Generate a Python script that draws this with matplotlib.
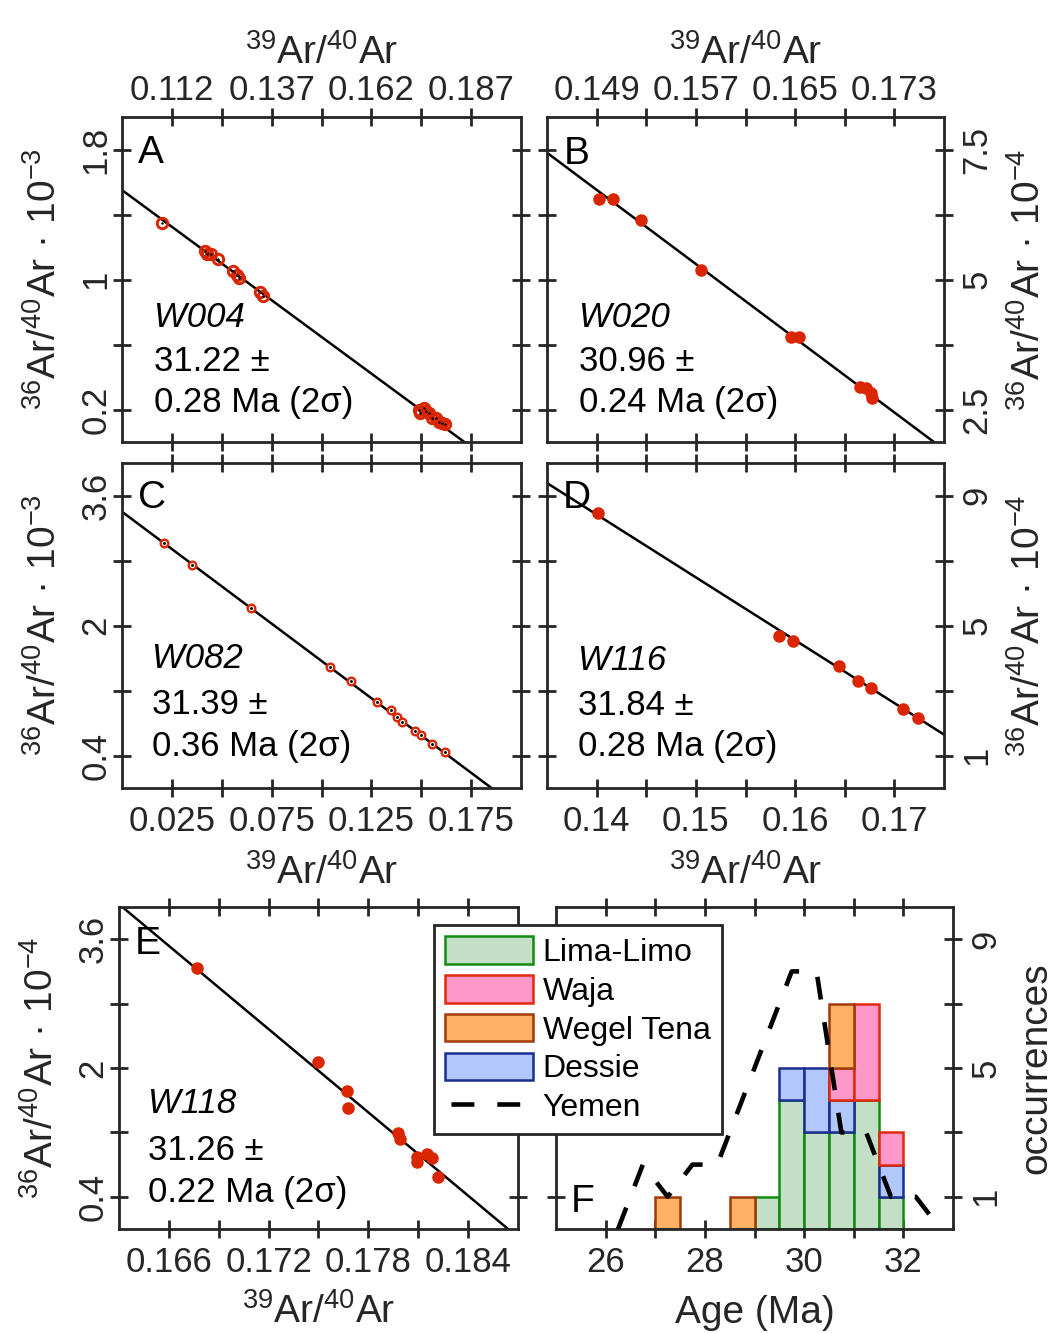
import numpy as np
import matplotlib
matplotlib.use("Agg")
import matplotlib.pyplot as plt
from matplotlib.patches import Patch
from matplotlib.lines import Line2D

plt.rcParams["font.family"] = ["Liberation Sans", "DejaVu Sans"]
plt.rcParams["mathtext.fontset"] = "custom"
plt.rcParams["mathtext.rm"] = "Liberation Sans"
plt.rcParams["mathtext.it"] = "Liberation Sans:italic"
plt.rcParams["mathtext.bf"] = "Liberation Sans:bold"

AX_COLOR = "#262626"
PT_COLOR = "#d92600"
FS = 25          # tick labels and sample annotations
LAB_FS = 28      # axis labels
LEG_FS = 23      # legend entries
LETTER_FS = 28   # panel letters

# ---------------- isochron data ----------------
# W004  (36Ar/40Ar in units of 1e-3)
a_x = [0.1101, 0.1208, 0.1214, 0.1223, 0.1240, 0.1278, 0.1289, 0.1292, 0.1345, 0.1353,
       0.1744, 0.1748, 0.1757, 0.1763, 0.1769, 0.1778, 0.1788, 0.1795, 0.1803, 0.1810]
a_y = [1.346, 1.177, 1.155, 1.157, 1.126, 1.050, 1.026, 1.007, 0.921, 0.900,
       0.197, 0.177, 0.207, 0.193, 0.177, 0.146, 0.146, 0.125, 0.115, 0.111]
# W020  (1e-4)
b_x = [0.1492, 0.1503, 0.1526, 0.1574, 0.1647, 0.1653, 0.1702, 0.1707, 0.1711, 0.1712]
b_y = [6.55, 6.55, 6.14, 5.18, 3.89, 3.89, 2.93, 2.91, 2.82, 2.72]
# W082  (1e-3)
c_x = [0.0213, 0.0349, 0.0647, 0.1041, 0.1150, 0.1280, 0.1349, 0.1377, 0.1402,
       0.1469, 0.1499, 0.1554, 0.1619]
c_y = [3.01, 2.75, 2.21, 1.49, 1.32, 1.06, 0.954, 0.88, 0.81, 0.70, 0.654, 0.543, 0.44]
# W116  (1e-4)
d_x = [0.1401, 0.1584, 0.1598, 0.1644, 0.1663, 0.1676, 0.1709, 0.1724]
d_y = [8.46, 4.69, 4.52, 3.74, 3.28, 3.09, 2.44, 2.16]
# W118  (1e-4)
e_x = [0.1677, 0.1750, 0.1767, 0.1768, 0.1798, 0.1799, 0.1809, 0.1809, 0.1815, 0.1818, 0.1822]
e_y = [3.246, 2.075, 1.718, 1.507, 1.196, 1.120, 0.898, 0.836, 0.926, 0.876, 0.650]

# isochron fits: y-intercept (trapped 36/40) and x-intercept (radiogenic 39/40)
fit_y0 = [3.357, 33.3, 3.40, 35.5, 32.14]
fit_x0 = [0.1858, 0.1867, 0.1852, 0.1835, 0.1864]

sample_names = ["W004", "W020", "W082", "W116", "W118"]
sample_ages = ["31.22", "30.96", "31.39", "31.84", "31.26"]
sample_errs = ["0.28", "0.24", "0.36", "0.28", "0.22"]
panel_letters = ["A", "B", "C", "D", "E", "F"]

# axis ranges and ticks
a_xticks = [0.1125, 0.125, 0.1375, 0.15, 0.1625, 0.175, 0.1875]
a_xlabels = ["0.112", "", "0.137", "", "0.162", "", "0.187"]
a_yticks = [0.2, 0.6, 1.0, 1.4, 1.8]
a_ylabels = ["0.2", "", "1", "", "1.8"]

b_xticks = [0.149, 0.153, 0.157, 0.161, 0.165, 0.169, 0.173]
b_xlabels = ["0.149", "", "0.157", "", "0.165", "", "0.173"]
b_yticks = [2.5, 3.75, 5.0, 6.25, 7.5]
b_ylabels = ["2.5", "", "5", "", "7.5"]

c_xticks = [0.025, 0.05, 0.075, 0.1, 0.125, 0.15, 0.175]
c_xlabels = ["0.025", "", "0.075", "", "0.125", "", "0.175"]
c_yticks = [0.4, 1.2, 2.0, 2.8, 3.6]
c_ylabels = ["0.4", "", "2", "", "3.6"]

d_xticks = [0.14, 0.145, 0.15, 0.155, 0.16, 0.165, 0.17]
d_xlabels = ["0.14", "", "0.15", "", "0.16", "", "0.17"]
d_yticks = [1, 3, 5, 7, 9]
d_ylabels = ["1", "", "5", "", "9"]

e_xticks = [0.166, 0.169, 0.172, 0.175, 0.178, 0.181, 0.184]
e_xlabels = ["0.166", "", "0.172", "", "0.178", "", "0.184"]
e_yticks = [0.4, 1.2, 2.0, 2.8, 3.6]
e_ylabels = ["0.4", "", "2", "", "3.6"]

# ---------------- age histogram data ----------------
bin_left = [27.0, 28.5, 29.0, 29.5, 30.0, 30.5, 31.0, 31.5]
lima_limo = [0, 0, 1, 4, 3, 3, 4, 1]
dessie = [0, 0, 0, 1, 2, 1, 0, 1]
waja = [0, 0, 0, 0, 0, 1, 3, 1]
wegel_tena = [1, 1, 0, 0, 0, 2, 0, 0]
bin_width = 0.5

yemen_age = [26.25, 26.75, 27.25, 27.75, 28.25, 28.75, 29.25, 29.75, 30.25, 30.75,
             31.25, 31.75, 32.25, 32.75]
yemen_count = [0, 2, 1, 2, 2, 4, 6, 8, 8, 3, 3, 1, 1, 0]

f_xticks = [26, 27, 28, 29, 30, 31, 32]
f_xlabels = ["26", "", "28", "", "30", "", "32"]
f_yticks = [1, 3, 5, 7, 9]
f_ylabels = ["1", "", "5", "", "9"]

groups = [
    ("Lima-Limo", lima_limo, "#c3dfc5", "#128a12"),
    ("Dessie", dessie, "#b2c7fc", "#1b2e92"),
    ("Waja", waja, "#fd98c9", "#e0290d"),
    ("Wegel Tena", wegel_tena, "#ffb165", "#a13a0b"),
]
legend_order = ["Lima-Limo", "Waja", "Wegel Tena", "Dessie"]

XLAB = r"$^{39}$Ar/$^{40}$Ar"
YLAB3 = r"$^{36}$Ar/$^{40}$Ar · 10$^{-3}$"
YLAB4 = r"$^{36}$Ar/$^{40}$Ar · 10$^{-4}$"

# ---------------- figure ----------------
W, H = 1053, 1333
fig = plt.figure(figsize=(W / 100, H / 100), dpi=100)


def add_ax(l, t, r, b):
    return fig.add_axes([l / W, 1 - b / H, (r - l) / W, (b - t) / H])


def style(ax, xlim, xt, xl, ylim, yt, yl, xside, yside):
    ax.set_xlim(xlim)
    ax.set_ylim(ylim)
    ax.set_xticks(xt, labels=xl)
    ax.set_yticks(yt, labels=yl)
    ax.tick_params(direction="inout", length=13, width=2, color=AX_COLOR,
                   labelcolor=AX_COLOR, labelsize=FS,
                   top=True, bottom=True, left=True, right=True,
                   labeltop=(xside == "top"), labelbottom=(xside == "bottom"),
                   labelleft=(yside == "left"), labelright=(yside == "right"))
    ax.tick_params(axis="x", pad=(1.0 if xside == "top" else 6))
    ax.tick_params(axis="y", labelrotation=90, pad=(0.5 if yside == "left" else 5.5))
    for lab in ax.get_yticklabels():
        lab.set_va("center")
    for s in ax.spines.values():
        s.set_linewidth(2)
        s.set_color(AX_COLOR)
    if xside == "top":
        ax.xaxis.set_label_position("top")
    if yside == "right":
        ax.yaxis.set_label_position("right")


ax_a = add_ax(122, 117, 521, 442)
ax_b = add_ax(547, 117, 944, 442)
ax_c = add_ax(122, 463, 521, 788)
ax_d = add_ax(547, 463, 944, 788)
ax_e = add_ax(119, 907, 518, 1229)
ax_f = add_ax(556, 907, 953, 1229)

style(ax_a, (0.1, 0.2), a_xticks, a_xlabels, (0, 2.0), a_yticks, a_ylabels, "top", "left")
style(ax_b, (0.145, 0.177), b_xticks, b_xlabels, (1.875, 8.125), b_yticks, b_ylabels, "top", "right")
style(ax_c, (0.0, 0.2), c_xticks, c_xlabels, (0, 4.0), c_yticks, c_ylabels, "bottom", "left")
style(ax_d, (0.135, 0.175), d_xticks, d_xlabels, (0, 10), d_yticks, d_ylabels, "bottom", "right")
style(ax_e, (0.163, 0.187), e_xticks, e_xlabels, (0, 4.0), e_yticks, e_ylabels, "bottom", "left")
style(ax_f, (25, 33), f_xticks, f_xlabels, (0, 10), f_yticks, f_ylabels, "bottom", "right")

iso_axes = [ax_a, ax_b, ax_c, ax_d, ax_e]
iso_x = [a_x, b_x, c_x, d_x, e_x]
iso_y = [a_y, b_y, c_y, d_y, e_y]
marker_kind = ["ring", "dot", "ring_small", "dot", "dot"]
text_x = [0.08, 0.08, 0.075, 0.077, 0.072]
text_base = [(0.354, 0.218, 0.092), (0.354, 0.218, 0.092), (0.369, 0.228, 0.098),
             (0.363, 0.225, 0.098), (0.36, 0.214, 0.084)]
letter_pos = [(0.04, 0.858), (0.043, 0.855), (0.04, 0.862), (0.04, 0.86), (0.04, 0.854),
              (0.038, 0.054)]

for i, ax in enumerate(iso_axes):
    xl = np.array(ax.get_xlim())
    ax.plot(xl, fit_y0[i] * (1 - xl / fit_x0[i]), color="black", lw=1.8, zorder=2)
    xs, ys = np.array(iso_x[i]), np.array(iso_y[i])
    if marker_kind[i] == "ring":
        ax.plot(xs, ys, "o", ms=7.5, mfc="none", mec=PT_COLOR, mew=2.1, zorder=3)
        ax.plot(xs, ys, ".", ms=1.5, color="black", zorder=4)
    elif marker_kind[i] == "ring_small":
        ax.plot(xs, ys, "o", ms=5.5, mfc="white", mec=PT_COLOR, mew=1.7, zorder=3)
        ax.plot(xs, ys, ".", ms=2.2, color="black", zorder=4)
    else:
        ax.plot(xs, ys, "o", ms=8, color=PT_COLOR, mec=PT_COLOR, zorder=3)
    tx = text_x[i]
    b1, b2, b3 = text_base[i]
    ax.text(tx, b1, sample_names[i], transform=ax.transAxes, fontsize=FS,
            style="italic", va="baseline", ha="left")
    ax.text(tx, b2, sample_ages[i] + " ±", transform=ax.transAxes, fontsize=FS,
            va="baseline", ha="left")
    ax.text(tx, b3, sample_errs[i] + " Ma (2σ)", transform=ax.transAxes, fontsize=FS,
            va="baseline", ha="left")

for ax, letter, (lx, ly) in zip(iso_axes + [ax_f], panel_letters, letter_pos):
    ax.text(lx, ly, letter, transform=ax.transAxes, fontsize=LETTER_FS,
            va="baseline", ha="left", zorder=5)

# axis labels
lab_kw = dict(fontsize=LAB_FS, color=AX_COLOR)
ax_a.set_xlabel(XLAB, labelpad=7, **lab_kw)
ax_b.set_xlabel(XLAB, labelpad=7, **lab_kw)
ax_c.set_xlabel(XLAB, labelpad=11, **lab_kw)
ax_d.set_xlabel(XLAB, labelpad=11, **lab_kw)
ax_e.set_xlabel(XLAB, labelpad=10, **lab_kw)
ax_a.set_ylabel(YLAB3, labelpad=11, **lab_kw)
ax_c.set_ylabel(YLAB3, labelpad=11, **lab_kw)
ax_e.set_ylabel(YLAB4, labelpad=11, **lab_kw)
ax_b.set_ylabel(YLAB4, labelpad=12, rotation=90, **lab_kw)
ax_d.set_ylabel(YLAB4, labelpad=12, rotation=90, **lab_kw)

# ---------------- histogram panel ----------------
centers = np.array(bin_left) + bin_width / 2
bottom = np.zeros(len(bin_left))
handles = {}
for name, counts, face, edge in groups:
    counts = np.array(counts, dtype=float)
    m = counts > 0
    ax_f.bar(centers[m], counts[m], width=bin_width, bottom=bottom[m], color=face,
             edgecolor=edge, linewidth=1.8, zorder=2)
    handles[name] = Patch(facecolor=face, edgecolor=edge, linewidth=1.8)
    bottom += counts

ax_f.plot(yemen_age, yemen_count, color="black", lw=3.3,
          linestyle=(0, (5.0, 5.0)), zorder=4)
ax_f.set_xlabel("Age (Ma)", labelpad=11, **lab_kw)
ax_f.set_ylabel("occurrences", labelpad=11, rotation=90, **lab_kw)

# legend key for the dashed curve starts with a short gap, then two dashes
leg_handles = [handles[n] for n in legend_order] + [
    Line2D([0], [0], color="black", lw=3.3, linestyle=(8.7, (5.0, 5.0)))]
leg = ax_f.legend(leg_handles, legend_order + ["Yemen"], loc="upper left",
                  bbox_to_anchor=(434 / W, 1 - 925 / H), bbox_transform=fig.transFigure,
                  borderaxespad=0, fontsize=LEG_FS, handlelength=2.75, handleheight=0.95,
                  handletextpad=0.3, labelspacing=0.22, borderpad=0.35,
                  fancybox=False, framealpha=1, edgecolor=AX_COLOR)
leg.get_frame().set_linewidth(2)
leg.set_zorder(10)

fig.savefig("out.png", dpi=100)
